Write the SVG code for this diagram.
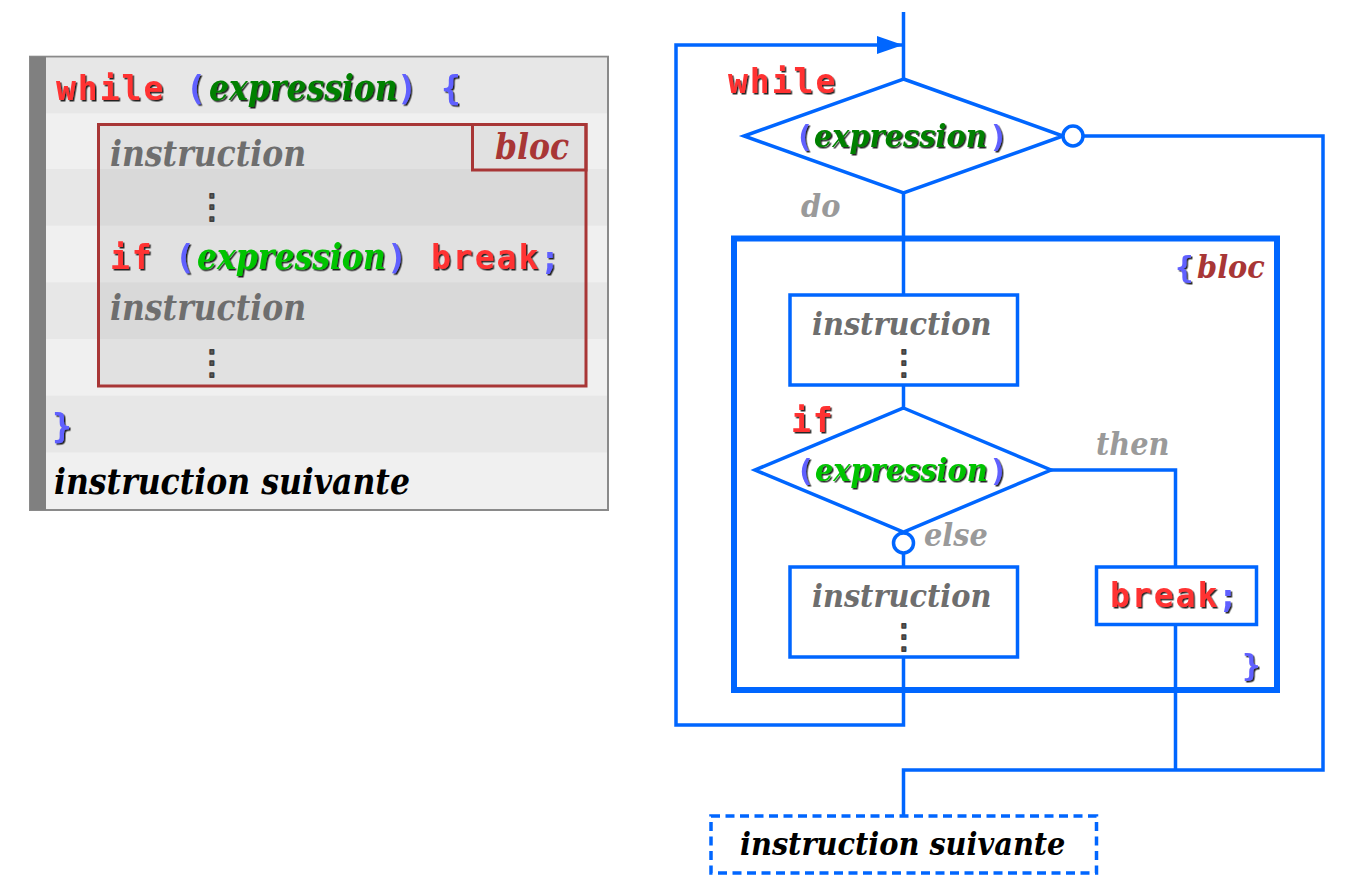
<svg xmlns="http://www.w3.org/2000/svg" width="1347" height="894" viewBox="0 0 1347 894">
<defs>
<style>
.mono{font-family:"DejaVu Sans Mono","Liberation Mono",monospace;font-weight:bold;font-size:33px;letter-spacing:2px}
.it{font-family:"DejaVu Serif Condensed","DejaVu Serif",serif;font-stretch:condensed;font-style:italic;font-weight:bold;font-size:35px}
.it2{font-family:"DejaVu Serif Condensed","DejaVu Serif",serif;font-stretch:condensed;font-style:italic;font-weight:bold;font-size:32px}
.dots{font-family:"DejaVu Sans",sans-serif;font-size:34px;fill:#606060;stroke:#404040;stroke-width:1.6;stroke-linejoin:round;text-anchor:middle}
.kw{fill:#ff3333}
.pn{fill:#6060ff}
.g1{fill:#008000}
.g2{fill:#00c400}
.gr{fill:#6e6e6e}
.lg{fill:#9a9a9a}
.bl{fill:#a83636}
.sh{filter:url(#shadow)}
.ln{fill:none;stroke:#0066ff;stroke-width:3.5}
.bx{fill:#fff;stroke:#0066ff;stroke-width:3.5}
</style>
<filter id="shadow" x="-10%" y="-20%" width="130%" height="150%">
<feDropShadow dx="1.5" dy="1.5" stdDeviation="0.5" flood-color="#000" flood-opacity="0.85"/>
</filter>
<marker id="arr" markerWidth="26" markerHeight="18" refX="25" refY="9" orient="auto" markerUnits="userSpaceOnUse">
<polygon points="0,0 26,9 0,18" fill="#0066ff"/>
</marker>
</defs>
<rect width="1347" height="894" fill="#fff"/>

<g id="code">
<rect x="30" y="56.7" width="578" height="453.3" fill="#f0f0f0" stroke="#8a8a8a" stroke-width="2"/>
<rect x="31" y="57.7" width="576" height="55.6" fill="#e7e7e7"/>
<rect x="31" y="169" width="576" height="56.7" fill="#e7e7e7"/>
<rect x="31" y="282.3" width="576" height="56.7" fill="#e7e7e7"/>
<rect x="31" y="395.7" width="576" height="56.7" fill="#e7e7e7"/>
<rect x="30" y="56.7" width="16" height="453.3" fill="#808080"/>
<g id="code-bloc">
<rect x="98.5" y="124.5" width="487.5" height="261.5" fill="#000" fill-opacity="0.06" stroke="#a83636" stroke-width="3"/>
<rect x="472.5" y="124.5" width="113.5" height="45.5" fill="none" stroke="#a83636" stroke-width="3"/>
<text class="it bl" x="495" y="159">bloc</text>
</g>
<text y="99.5"><tspan class="mono kw sh" x="56">while</tspan><tspan class="mono pn sh" x="186">(</tspan><tspan class="it g1 sh" x="209">expression</tspan><tspan class="mono pn sh" x="397">)</tspan><tspan class="mono pn sh" x="441">{</tspan></text>
<text class="it gr" x="110" y="166">instruction</text>
<text class="dots" x="212" y="218">⋮</text>
<text y="269"><tspan class="mono kw sh" x="110">if</tspan><tspan class="mono pn sh" x="175">(</tspan><tspan class="it g2 sh" x="197">expression</tspan><tspan class="mono pn sh" x="387">)</tspan><tspan class="mono kw sh" x="431">break</tspan><tspan class="mono pn sh" x="540">;</tspan></text>
<text class="it gr" x="110" y="320">instruction</text>
<text class="dots" x="212" y="374">⋮</text>
<text class="mono pn sh" x="52" y="438">}</text>
<text class="it" x="54" y="494" fill="#000">instruction suivante</text>
</g>

<g id="connectors">
<polyline class="ln" points="903.5,12 903.5,79"/>
<polyline class="ln" points="903.5,657 903.5,725 676,725 676,45 902,45" marker-end="url(#arr)"/>
<polyline class="ln" points="903.5,193 903.5,295"/>
<polyline class="ln" points="1083,136 1323,136 1323,770 903.5,770 903.5,816"/>
<polyline class="ln" points="903.5,385 903.5,408"/>
<polyline class="ln" points="1051,470 1175.5,470 1175.5,567"/>
<polyline class="ln" points="903.5,553 903.5,567"/>
<polyline class="ln" points="1175.5,624.5 1175.5,770"/>
</g>

<g id="while-node">
<polygon class="bx" points="903.5,79 1063,136 903.5,193 744,136"/>
<circle class="bx" cx="1073" cy="136" r="10"/>
<text class="mono kw sh" x="728" y="92.5">while</text>
<text y="147"><tspan class="mono pn sh" x="795" style="font-size:31px">(</tspan><tspan class="it2 g1 sh" x="814">expression</tspan><tspan class="mono pn sh" x="989" style="font-size:31px">)</tspan></text>
<text class="it2 lg" x="801" y="217">do</text>
</g>

<g id="bloc">
<rect x="734" y="238.5" width="543" height="451.5" fill="none" stroke="#0066ff" stroke-width="6"/>
<text y="278"><tspan class="mono pn sh" x="1175" style="font-size:31px">{</tspan><tspan class="it2 bl" x="1197">bloc</tspan></text>
<text class="mono pn sh" x="1242" y="676" style="font-size:31px">}</text>
</g>

<g id="instruction-1">
<rect class="bx" x="790" y="295" width="227.5" height="90"/>
<text class="it2 gr" x="812" y="335">instruction</text>
<text class="dots" x="904" y="374">⋮</text>
</g>

<g id="if-node">
<polygon class="bx" points="903.5,408 1051,470 903.5,532 755,470"/>
<circle class="bx" cx="903.5" cy="543" r="10"/>
<text class="mono kw sh" x="791" y="432">if</text>
<text y="481"><tspan class="mono pn sh" x="796" style="font-size:31px">(</tspan><tspan class="it2 g2 sh" x="815">expression</tspan><tspan class="mono pn sh" x="989" style="font-size:31px">)</tspan></text>
<text class="it2 lg" x="1096" y="455">then</text>
<text class="it2 lg" x="924" y="546">else</text>
</g>

<g id="instruction-2">
<rect class="bx" x="790" y="567" width="227.5" height="90"/>
<text class="it2 gr" x="812" y="607">instruction</text>
<text class="dots" x="904" y="648">⋮</text>
</g>

<g id="break-node">
<rect class="bx" x="1096.5" y="567" width="160" height="57.5"/>
<text y="607"><tspan class="mono kw sh" x="1110">break</tspan><tspan class="mono pn sh" x="1218">;</tspan></text>
</g>

<g id="next-node">
<rect x="711" y="816" width="385.5" height="57" fill="#fff" stroke="#0066ff" stroke-width="3.5" stroke-dasharray="9 5.5"/>
<text class="it2" x="740" y="855" fill="#000">instruction suivante</text>
</g>
</svg>
